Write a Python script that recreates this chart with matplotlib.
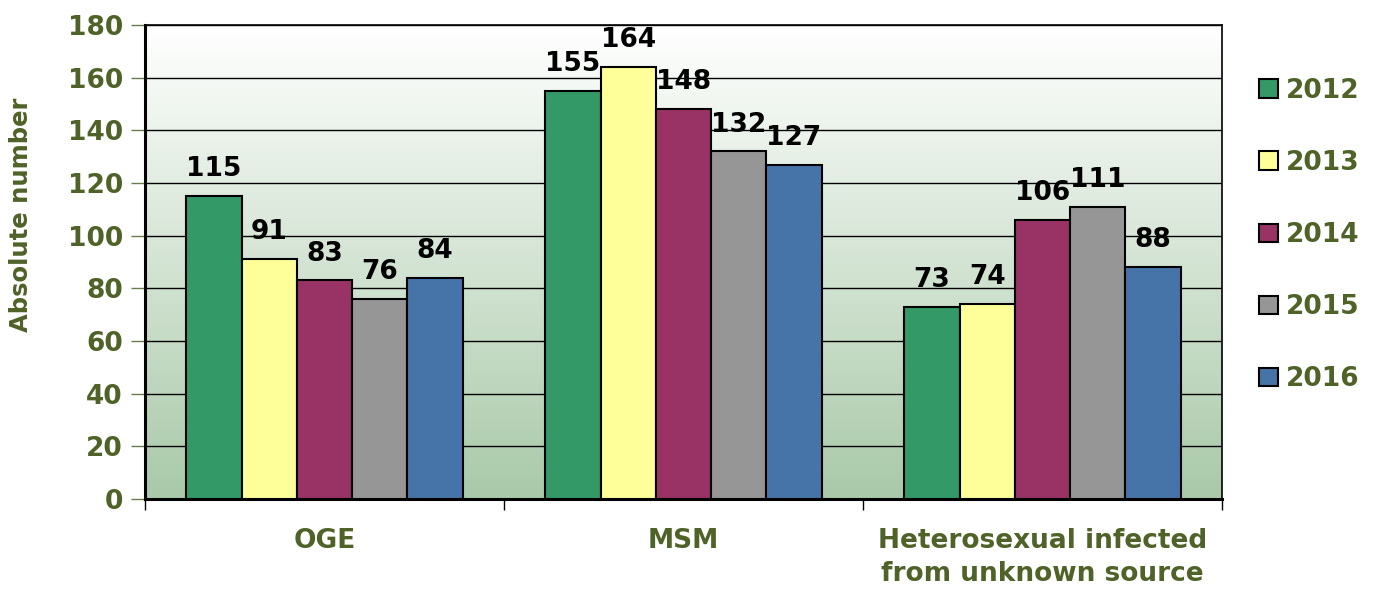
import numpy as np
import matplotlib
matplotlib.use("Agg")
import matplotlib.pyplot as plt
from matplotlib.colors import LinearSegmentedColormap

categories = ["OGE", "MSM", "Heterosexual infected\nfrom unknown source"]
years = ["2012", "2013", "2014", "2015", "2016"]
values = {
    "2012": [115, 155, 73],
    "2013": [91, 164, 74],
    "2014": [83, 148, 106],
    "2015": [76, 132, 111],
    "2016": [84, 127, 88],
}
colors = ["#339966", "#ffff99", "#993366", "#969696", "#4674a8"]
olive = "#4f6228"

plt.rcParams['font.family'] = ['DejaVu Sans']

fig = plt.figure(figsize=(13.73, 5.89), dpi=100)
ax = fig.add_axes([145 / 1373, 90 / 589, 1077 / 1373, 474 / 589])

# gradient background
cmap = LinearSegmentedColormap.from_list("bg", ["#a9c9a9", "#ffffff"])
grad = np.linspace(0, 1, 256).reshape(-1, 1)
ax.imshow(grad, cmap=cmap, aspect="auto", extent=[0, 1, 0, 1],
          transform=ax.transAxes, origin="lower", zorder=0)

x = np.arange(len(categories))
w = 0.154
for i, (yr, c) in enumerate(zip(years, colors)):
    pos = x + (i - 2) * w
    bars = ax.bar(pos, values[yr], width=w, color=c, edgecolor="black",
                  linewidth=1.5, label=yr, zorder=3)
    for b, v in zip(bars, values[yr]):
        ax.annotate(str(v), (b.get_x() + b.get_width() / 2, v),
                    xytext=(0, 10), textcoords="offset points",
                    ha="center", va="bottom", fontsize=19,
                    fontweight="bold", color="black", zorder=4)

ax.set_xlim(-0.5, 2.5)
ax.set_ylim(0, 180)
ax.set_yticks(range(0, 181, 20))
ax.yaxis.grid(True, color="black", linewidth=1, zorder=1)
ax.set_axisbelow(True)

ax.tick_params(axis="y", labelsize=19, labelcolor=olive, color="#6b7b50",
               length=10, width=1, pad=6)
for t in ax.get_yticklabels():
    t.set_fontweight("bold")

# category ticks at boundaries, labels centred
ax.set_xticks([-0.5, 0.5, 1.5, 2.5])
ax.set_xticklabels([])
ax.set_xticks(x, minor=True)
ax.set_xticklabels(categories, minor=True, fontsize=19, fontweight="bold",
                   color=olive, linespacing=1.35)
ax.tick_params(axis="x", which="minor", length=0, pad=21)
ax.tick_params(axis="x", which="major", length=8, width=1, color="black")

ax.set_ylabel("Absolute number", fontsize=17.5, fontweight="bold", color=olive)
ax.yaxis.set_label_coords(-0.104, 0.60)

for s in ["left", "bottom"]:
    ax.spines[s].set_linewidth(2.2)
for s in ["top", "right"]:
    ax.spines[s].set_linewidth(1.2)

leg = fig.legend(loc="center left", bbox_to_anchor=(1246 / 1373, 1 - 235 / 589),
                 frameon=False, fontsize=19, handlelength=0.7,
                 handleheight=0.7, handletextpad=0.3, labelspacing=1.75,
                 borderpad=0)
for t in leg.get_texts():
    t.set_color(olive)
    t.set_fontweight("bold")

fig.savefig("out.png", dpi=100)
